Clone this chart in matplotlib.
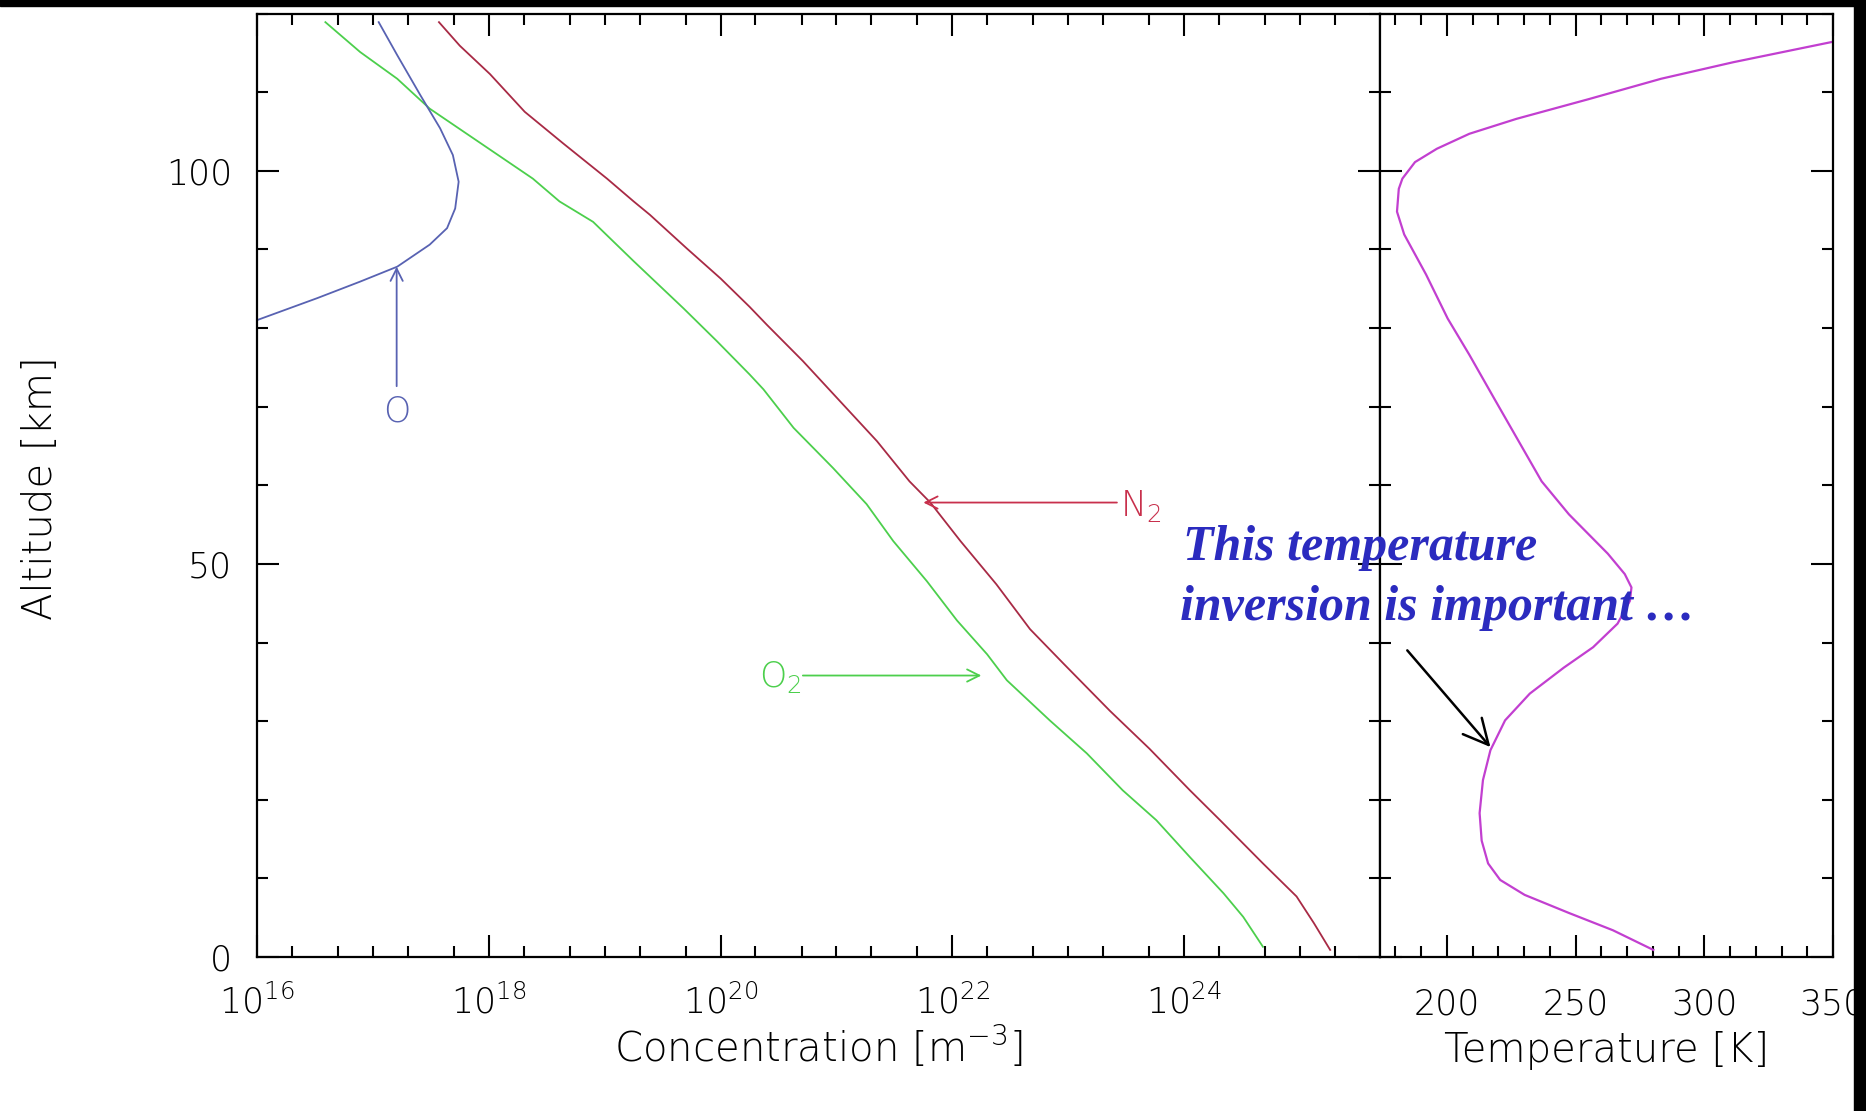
import numpy as np
import matplotlib
matplotlib.use('Agg')
import matplotlib.pyplot as plt
from matplotlib.patches import Rectangle
from matplotlib.ticker import FixedLocator, NullFormatter, LogFormatterSciNotation, MultipleLocator

# ---------------- data ----------------
# N2 concentration profile: altitude [km] and log10(concentration [m^-3])
n2_alt = [118.9, 115.9, 112.3, 107.5, 103.5, 99.0, 96.1, 94.4, 90.1, 86.3, 82.7, 80.4,
          75.8, 70.7, 65.6, 60.5, 57.8, 52.9, 47.4, 41.7, 37.3, 31.3, 26.5, 21.2, 17.4,
          11.9, 7.7, 4.3, 0.9]
n2_logc = [17.57, 17.75, 18.01, 18.31, 18.64, 19.02, 19.25, 19.39, 19.71, 20.00, 20.25, 20.40,
           20.71, 21.03, 21.35, 21.63, 21.81, 22.07, 22.38, 22.67, 22.96, 23.36, 23.70, 24.05, 24.31,
           24.68, 24.97, 25.12, 25.26]

# O2 concentration profile
o2_alt = [118.9, 115.1, 111.7, 107.9, 103.3, 99.0, 96.1, 93.5, 88.5, 82.5, 78.3, 74.1, 72.2,
          67.3, 62.2, 57.6, 52.9, 47.8, 42.8, 38.5, 35.2, 30.1, 25.9, 21.2, 17.4, 12.7, 8.1,
          5.1, 1.3]
o2_logc = [16.59, 16.89, 17.21, 17.49, 17.95, 18.38, 18.61, 18.90, 19.25, 19.68, 19.97, 20.25, 20.37,
           20.63, 20.97, 21.26, 21.49, 21.78, 22.04, 22.30, 22.47, 22.84, 23.16, 23.47, 23.76, 24.05, 24.34,
           24.51, 24.68]

# atomic O concentration profile
o_alt = [118.9, 114.7, 109.6, 105.4, 102.0, 98.6, 95.2, 92.7, 90.6, 87.8, 85.9, 83.8, 81.0]
o_logc = [17.05, 17.21, 17.41, 17.58, 17.69, 17.74, 17.71, 17.64, 17.49, 17.21, 16.89, 16.52, 16.0]

# temperature profile
t_alt = [0.9, 3.4, 5.6, 7.9, 9.8, 11.9, 14.8, 18.3, 22.5, 26.3, 30.1, 33.5, 36.8, 39.4, 42.4,
         45.3, 47.0, 48.7, 51.3, 56.3, 60.5, 70.9, 76.6, 81.2, 86.8, 91.9, 94.8, 97.7, 99.0,
         101.1, 102.8, 104.7, 106.6, 109.1, 111.7, 113.8, 116.4]
t_k = [280.2, 264.5, 247.4, 230.2, 220.7, 216.0, 213.5, 212.7, 214.0, 216.9, 222.6, 232.2, 245.4,
       256.8, 266.3, 271.1, 271.7, 269.1, 262.5, 247.4, 236.8, 218.6, 208.7, 200.3, 191.9, 183.4,
       180.6, 181.3, 182.7, 187.6, 196.1, 208.7, 227.0, 255.0, 283.2, 311.2, 349.9]

# tick values / labels
conc_major_exp = [16, 18, 20, 22, 24]
temp_major = [200, 250, 300, 350]
alt_major = [0, 50, 100]

# annotation anchor values (data units)
o_arrow_logc, o_arrow_alt0, o_arrow_alt1, o_label_alt = 17.205, 72.6, 87.8, 68.1
n2_arrow_logc0, n2_arrow_logc1, n2_arrow_alt, n2_label_alt = 23.42, 21.75, 57.8, 56.1
o2_arrow_logc0, o2_arrow_logc1, o2_arrow_alt, o2_label_alt = 20.71, 22.25, 35.8, 34.3
inv_arrow_from = (184.6, 39.0)
inv_arrow_to = (216.9, 26.7)

# ---------------- style ----------------
N2_COL = '#a82a45'
N2_LAB = '#c8304c'
O2_COL = '#4ccf4c'
O_COL = '#5862b2'
T_COL = '#c23fd0'
NOTE_COL = '#2b2bbf'

plt.rcParams['font.family'] = ['DejaVu Sans']
plt.rcParams['font.weight'] = 'light'
plt.rcParams['axes.labelweight'] = 'light'
plt.rcParams['mathtext.default'] = 'regular'

W, H = 1866, 1111
fig = plt.figure(figsize=(W / 100, H / 100), dpi=100, facecolor='white')

x0, xm, x1 = 257 / W, 1380 / W, 1833 / W
yb, yt = 1 - 957 / H, 1 - 13.5 / H
ax1 = fig.add_axes([x0, yb, xm - x0, yt - yb])
ax2 = fig.add_axes([xm, yb, x1 - xm, yt - yb], sharey=ax1)

for ax in (ax1, ax2):
    for s in ax.spines.values():
        s.set_linewidth(1.6)
    ax.tick_params(which='both', direction='in', top=True, right=True,
                   width=1.5, labelsize=25, colors='black')
    ax.tick_params(which='major', length=16)
    ax.tick_params(which='minor', length=8)

# ---- concentration panel ----
ax1.plot(10 ** np.array(n2_logc), n2_alt, color=N2_COL, lw=1.3)
ax1.plot(10 ** np.array(o2_logc), o2_alt, color=O2_COL, lw=1.3)
ax1.plot(10 ** np.array(o_logc), o_alt, color=O_COL, lw=1.3)
ax1.set_xscale('log')
ax1.set_xlim(1e16, 10 ** 25.69)
ax1.set_ylim(0, 120)
ax1.xaxis.set_major_locator(FixedLocator([10.0 ** e for e in conc_major_exp]))
minor = [m * 10.0 ** e for e in range(16, 26) for m in (1, 2, 5)
         if not (m == 1 and e in conc_major_exp)]
ax1.xaxis.set_minor_locator(FixedLocator(minor))
ax1.xaxis.set_major_formatter(LogFormatterSciNotation())
ax1.xaxis.set_minor_formatter(NullFormatter())
ax1.yaxis.set_major_locator(FixedLocator(alt_major))
ax1.yaxis.set_minor_locator(MultipleLocator(10))
ax1.tick_params(axis='x', pad=20)
ax1.tick_params(axis='y', pad=18)

ax1.set_xlabel('Concentration [m$^{-3}$]', fontsize=29)
ax1.xaxis.set_label_coords(0.5, -0.1113)
ax1.xaxis.label.set_va('baseline')
ax1.set_ylabel('Altitude [km]', fontsize=29)
ax1.yaxis.set_label_coords(-0.1825, 0.497)
ax1.yaxis.label.set_va('baseline')

arr_kw = dict(shrinkA=0, shrinkB=0, mutation_scale=22, lw=1.3)
ax1.annotate('', xy=(10 ** o_arrow_logc, o_arrow_alt1), xytext=(10 ** o_arrow_logc, o_arrow_alt0),
             arrowprops=dict(arrowstyle='->', color=O_COL, **arr_kw))
ax1.text(10 ** o_arrow_logc, o_label_alt, 'O', color=O_COL, fontsize=25, ha='center', va='baseline')
ax1.annotate('', xy=(10 ** n2_arrow_logc1, n2_arrow_alt), xytext=(10 ** n2_arrow_logc0, n2_arrow_alt),
             arrowprops=dict(arrowstyle='->', color=N2_LAB, **arr_kw))
ax1.text(10 ** (n2_arrow_logc0 + 0.03), n2_label_alt, 'N$_2$', color=N2_LAB, fontsize=25,
         ha='left', va='baseline')
ax1.annotate('', xy=(10 ** o2_arrow_logc1, o2_arrow_alt), xytext=(10 ** o2_arrow_logc0, o2_arrow_alt),
             arrowprops=dict(arrowstyle='->', color=O2_COL, **arr_kw))
ax1.text(10 ** (o2_arrow_logc0 - 0.01), o2_label_alt, 'O$_2$', color=O2_COL, fontsize=25,
         ha='right', va='baseline')

# ---- temperature panel ----
ax2.plot(t_k, t_alt, color=T_COL, lw=1.6)
ax2.set_xlim(174, 350)
ax2.xaxis.set_major_locator(FixedLocator(temp_major))
ax2.xaxis.set_minor_locator(MultipleLocator(10))
ax2.tick_params(axis='y', labelleft=False)
ax2.tick_params(axis='x', pad=22)
ax2.set_xlabel('Temperature [K]', fontsize=29)
ax2.xaxis.set_label_coords(0.5, -0.1113)
ax2.xaxis.label.set_va('baseline')

ax2.annotate('', xy=inv_arrow_to, xytext=inv_arrow_from, annotation_clip=False,
             arrowprops=dict(arrowstyle='->,head_length=0.6,head_width=0.3', color='black',
                             lw=1.8, shrinkA=0, shrinkB=0, mutation_scale=30))

note_kw = dict(family=['Liberation Serif', 'DejaVu Serif'], style='italic', weight='bold',
               fontsize=36, color=NOTE_COL, ha='left', va='baseline', zorder=20)
fig.text(1183 / W, 1 - 560 / H, 'This temperature', **note_kw)
fig.text(1180 / W, 1 - 620 / H, 'inversion is important \u2026', **note_kw)

# dark frame of the screenshot
fig.patches.append(Rectangle((1854 / W, 0), 1, 1, transform=fig.transFigure,
                             color='black', zorder=30))
fig.patches.append(Rectangle((0, 1 - 6 / H), 1, 1, transform=fig.transFigure,
                             color='black', zorder=30))

fig.savefig('out.png', dpi=100, facecolor='white')
